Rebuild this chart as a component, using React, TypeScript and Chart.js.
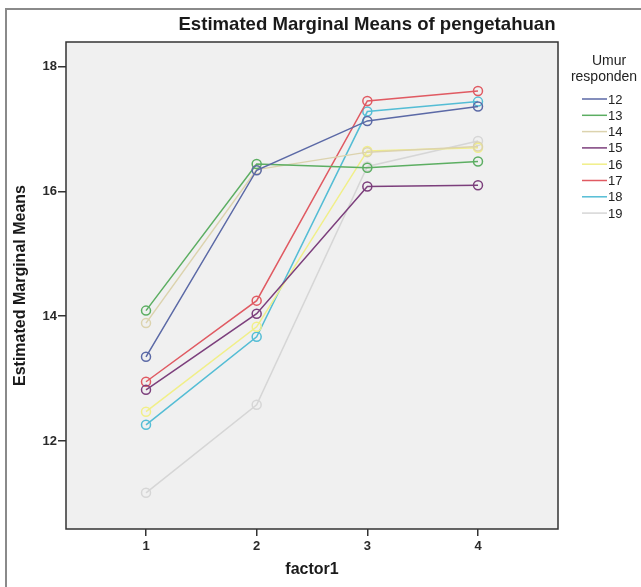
import React, { useEffect, useRef } from "react";
import { Chart, registerables } from "chart.js";

Chart.register(...registerables);

const factorLevels = [1, 2, 3, 4];
const ageGroups = ["12", "13", "14", "15", "16", "17", "18", "19"];
const age12 = [13.35, 16.34, 17.13, 17.36];
const age13 = [14.09, 16.44, 16.38, 16.48];
const age14 = [13.89, 16.35, 16.63, 16.72];
const age15 = [12.82, 14.04, 16.08, 16.1];
const age16 = [12.47, 13.83, 16.65, 16.7];
const age17 = [12.95, 14.25, 17.45, 17.61];
const age18 = [12.26, 13.67, 17.28, 17.44];
const age19 = [11.17, 12.58, 16.4, 16.81];
const seriesValues = [age12, age13, age14, age15, age16, age17, age18, age19];
const seriesColors = ["#5b69a6", "#5cae62", "#dcd3ae", "#7c3f7c", "#f1ef88", "#e05a62", "#54bdd5", "#d6d6d6"];
const yTicks = [12, 14, 16, 18];

const chartTitle = "Estimated Marginal Means of pengetahuan";
const legendTitle = ["Umur", "responden"];
const xTitle = "factor1";
const yTitle = "Estimated Marginal Means";

const FONT = "'Liberation Sans', Arial, sans-serif";

const decorPlugin = {
  id: "decor",
  beforeDraw(chart: any) {
    const { ctx, chartArea: a, width, height } = chart;
    ctx.save();
    ctx.fillStyle = "#ffffff";
    ctx.fillRect(0, 0, width, height);
    ctx.fillStyle = "#f0f0f0";
    ctx.fillRect(a.left, a.top, a.right - a.left, a.bottom - a.top);
    // outer frame
    ctx.strokeStyle = "#8a8a8a";
    ctx.lineWidth = 2;
    ctx.beginPath();
    ctx.moveTo(6, height + 2);
    ctx.lineTo(6, 9);
    ctx.lineTo(width + 2, 9);
    ctx.stroke();
    ctx.restore();
  },
  afterDraw(chart: any) {
    const { ctx, chartArea: a } = chart;
    ctx.save();
    ctx.strokeStyle = "#333333";
    ctx.lineWidth = 1.5;
    ctx.strokeRect(a.left, a.top, a.right - a.left, a.bottom - a.top);

    ctx.fillStyle = "#1a1a1a";
    ctx.textAlign = "center";
    ctx.textBaseline = "middle";
    ctx.font = `bold 18.6px ${FONT}`;
    ctx.fillText(chartTitle, 367, 25);

    ctx.font = `14px ${FONT}`;
    ctx.fillStyle = "#222222";
    ctx.fillText(legendTitle[0], 609, 61);
    ctx.fillText(legendTitle[1], 604, 77);

    ctx.font = `13px ${FONT}`;
    ctx.textAlign = "left";
    ageGroups.forEach((g, i) => {
      const y = 99 + i * 16.3;
      ctx.strokeStyle = seriesColors[i];
      ctx.lineWidth = 1.5;
      ctx.beginPath();
      ctx.moveTo(582, y);
      ctx.lineTo(607, y);
      ctx.stroke();
      ctx.fillStyle = "#222222";
      ctx.fillText(g, 608, y + 1);
    });
    ctx.restore();
  },
};

export default function App() {
  const ref = useRef<HTMLCanvasElement>(null);
  useEffect(() => {
    if (!ref.current) return;
    const datasets = ageGroups.map((g, i) => ({
      label: g,
      data: factorLevels.map((x, j) => ({ x, y: seriesValues[i][j] })),
      borderColor: seriesColors[i],
      backgroundColor: "transparent",
      pointBackgroundColor: "transparent",
      pointBorderColor: seriesColors[i],
      pointRadius: 4.5,
      pointBorderWidth: 1.5,
      borderWidth: 1.5,
      tension: 0,
    }));
    const chart = new Chart(ref.current, {
      type: "line",
      data: { datasets },
      plugins: [decorPlugin],
      options: {
        animation: false,
        responsive: false,
        devicePixelRatio: 1,
        layout: { padding: { left: 6, right: 83, top: 42, bottom: 0 } },
        plugins: { legend: { display: false }, tooltip: { enabled: false }, title: { display: false } },
        scales: {
          x: {
            type: "linear",
            min: 0.277,
            max: 4.723,
            afterBuildTicks: (s: any) => {
              s.ticks = factorLevels.map((v) => ({ value: v }));
            },
            afterFit: (s: any) => {
              s.height = 58;
            },
            grid: { drawOnChartArea: false, drawTicks: true, tickLength: 7, color: "#333333", lineWidth: 1.5 },
            border: { display: false },
            ticks: { color: "#2a2a2a", font: { family: FONT, size: 13, weight: "bold" }, padding: 3, callback: (v: any) => String(v) },
            title: { display: true, text: xTitle, color: "#1a1a1a", font: { family: FONT, size: 16, weight: "bold" }, padding: { top: 0, bottom: 8 } },
          },
          y: {
            type: "linear",
            min: 10.59,
            max: 18.395,
            afterBuildTicks: (s: any) => {
              s.ticks = yTicks.map((v) => ({ value: v }));
            },
            afterFit: (s: any) => {
              s.width = 60;
            },
            grid: { drawOnChartArea: false, drawTicks: true, tickLength: 8, color: "#333333", lineWidth: 1.5 },
            border: { display: false },
            ticks: { color: "#2a2a2a", font: { family: FONT, size: 13, weight: "bold" }, padding: 1, callback: (v: any) => String(v) },
            title: { display: true, text: yTitle, color: "#1a1a1a", font: { family: FONT, size: 16, weight: "bold" }, padding: { top: 5, bottom: 0 } },
          },
        },
      },
    } as any);
    return () => chart.destroy();
  }, []);
  return (
    <div style={{ position: "absolute", left: 0, top: 0, width: 641, height: 587 }}>
      <canvas ref={ref} width={641} height={587} style={{ display: "block", width: 641, height: 587 }} />
    </div>
  );
}
